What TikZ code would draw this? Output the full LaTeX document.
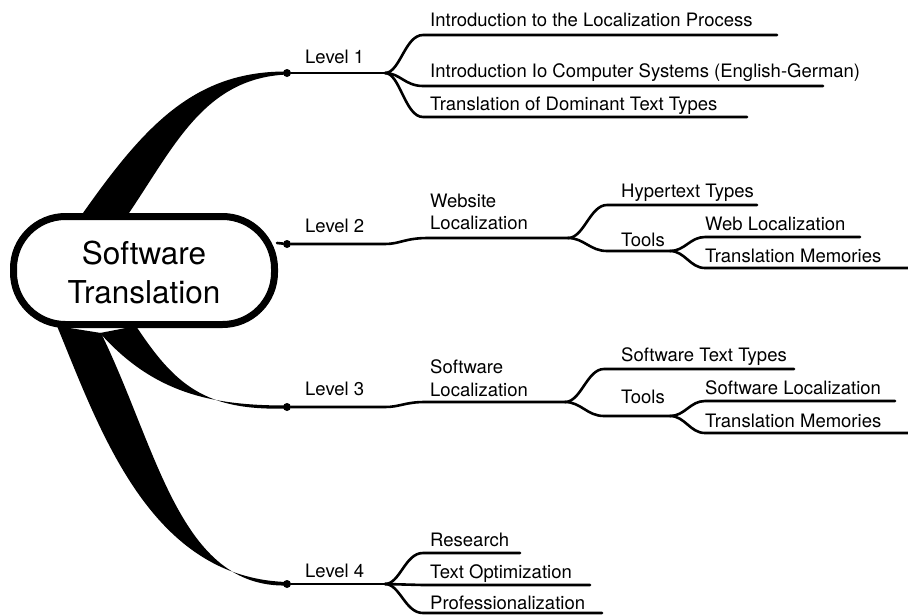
\documentclass[tikz,border=0pt]{standalone}
\usepackage{fontspec}
\setmainfont{TeX Gyre Heros}
\begin{document}
\begin{tikzpicture}[x=1pt,y=-1pt,
  branch/.style={line width=2.6, line cap=round},
  lbl/.style={anchor=base west, inner sep=0, font=\fontsize{18.5}{22}\selectfont},
  dotn/.style={circle, fill, inner sep=0, minimum size=8},
  wedge/.style={fill=black}]
\useasboundingbox (0,0) rectangle (908,614);
% tapered main branches
\fill[wedge] (83,213) .. controls (145,125) and (195,71) .. (287,71.5) -- (287,74.5) .. controls (205,78) and (175,145) .. (129,213) -- cycle;
\fill[wedge] (100,333) .. controls (155,395) and (215,405.5) .. (287,405.5) -- (287,408.5) .. controls (205,411) and (175,385) .. (136,326) -- cycle;
\fill[wedge] (57,326) .. controls (100,430) and (150,578) .. (287,582) -- (287,585.5) .. controls (180,588) and (158,450) .. (101,333) -- cycle;
% central node
\node[draw, fill=white, line width=7, rounded corners=52, minimum width=261, minimum height=108, inner sep=0] (c) at (144,270.5) {};
\node[inner sep=0, font=\fontsize{31.5}{39}\selectfont, align=center] (ct) at (144,272) {Software\\Translation};
% level dots
\node[dotn] (d1) at (287,73) {};
\node[dotn] (d2) at (287,244) {};
\node[dotn] (d3) at (287,407) {};
\node[dotn] (d4) at (287,584) {};
\coordinate (c2) at (277,243);
\draw[branch] (c2) -- (d2);
% forks
\coordinate (f1) at (385,73);
\coordinate (f2) at (568,238);
\coordinate (f3) at (565,402);
\coordinate (f4) at (385,584);
\coordinate (t2) at (670,251);
\coordinate (t3) at (670,416);
\draw[branch] (d1) -- (f1);
\draw[branch] (d2) -- (385,244) .. controls (400,244) and (405,238) .. (428,238) -- (f2);
\draw[branch] (d3) -- (385,407) .. controls (400,407) and (405,402) .. (425,402) -- (f3);
\draw[branch] (d4) -- (f4);
% level 1 leaves
\coordinate (a1) at (423,35);  \coordinate (a1e) at (777,35);
\coordinate (a2) at (423,86);  \coordinate (a2e) at (823,86);
\coordinate (a3) at (423,117); \coordinate (a3e) at (747,117);
\draw[branch] (f1) .. controls (400,73) and (405,35) .. (a1) -- (a1e);
\draw[branch] (f1) .. controls (400,73) and (405,86) .. (a2) -- (a2e);
\draw[branch] (f1) .. controls (400,73) and (405,117) .. (a3) -- (a3e);
% level 2 leaves
\coordinate (b1) at (607,205); \coordinate (b1e) at (757,205);
\coordinate (b2) at (607,251);
\draw[branch] (f2) .. controls (584,238) and (590,205) .. (b1) -- (b1e);
\draw[branch] (f2) .. controls (584,238) and (590,251) .. (b2) -- (t2);
\coordinate (b3) at (705,237); \coordinate (b3e) at (860,237);
\coordinate (b4) at (705,268); \coordinate (b4e) at (912,268);
\draw[branch] (t2) .. controls (685,251) and (690,237) .. (b3) -- (b3e);
\draw[branch] (t2) .. controls (685,251) and (690,268) .. (b4) -- (b4e);
% level 3 leaves
\coordinate (e1) at (604,369); \coordinate (e1e) at (794,369);
\coordinate (e2) at (604,416);
\draw[branch] (f3) .. controls (581,402) and (587,369) .. (e1) -- (e1e);
\draw[branch] (f3) .. controls (581,402) and (587,416) .. (e2) -- (t3);
\coordinate (e3) at (705,401); \coordinate (e3e) at (895,401);
\coordinate (e4) at (705,433); \coordinate (e4e) at (912,433);
\draw[branch] (t3) .. controls (685,416) and (690,401) .. (e3) -- (e3e);
\draw[branch] (t3) .. controls (685,416) and (690,433) .. (e4) -- (e4e);
% level 4 leaves
\coordinate (g1) at (423,553); \coordinate (g1e) at (520,553);
\coordinate (g2) at (423,585); \coordinate (g2e) at (590,585);
\coordinate (g3) at (423,613); \coordinate (g3e) at (602,613);
\draw[branch] (f4) .. controls (400,584) and (405,553) .. (g1) -- (g1e);
\draw[branch] (f4) -- (g2) -- (g2e);
\draw[branch] (f4) .. controls (400,584) and (405,613) .. (g3) -- (g3e);
% labels
\node[lbl] (l1) at (305,63) {Level 1};
\node[lbl] (l2) at (305,232) {Level 2};
\node[lbl] (l3) at (305,395) {Level 3};
\node[lbl] (l4) at (305,577) {Level 4};
\node[lbl] (n11) at (430,26) {Introduction to the Localization Process};
\node[lbl] (n12) at (430,77) {Introduction Io Computer Systems (English-German)};
\node[lbl] (n13) at (430,110) {Translation of Dominant Text Types};
\node[lbl] (n2a) at (430,207) {Website};
\node[lbl] (n2b) at (430,229) {Localization};
\node[lbl] (n21) at (621,197) {Hypertext Types};
\node[lbl] (n22) at (621,246) {Tools};
\node[lbl] (n23) at (705,230) {Web Localization};
\node[lbl] (n24) at (705,262) {Translation Memories};
\node[lbl] (n3a) at (430,373) {Software};
\node[lbl] (n3b) at (430,396) {Localization};
\node[lbl] (n31) at (621,361) {Software Text Types};
\node[lbl] (n32) at (621,403) {Tools};
\node[lbl] (n33) at (705,394) {Software Localization};
\node[lbl] (n34) at (705,427) {Translation Memories};
\node[lbl] (n41) at (430,546) {Research};
\node[lbl] (n42) at (430,578) {Text Optimization};
\node[lbl] (n43) at (430,609) {Professionalization};
\end{tikzpicture}
\end{document}
